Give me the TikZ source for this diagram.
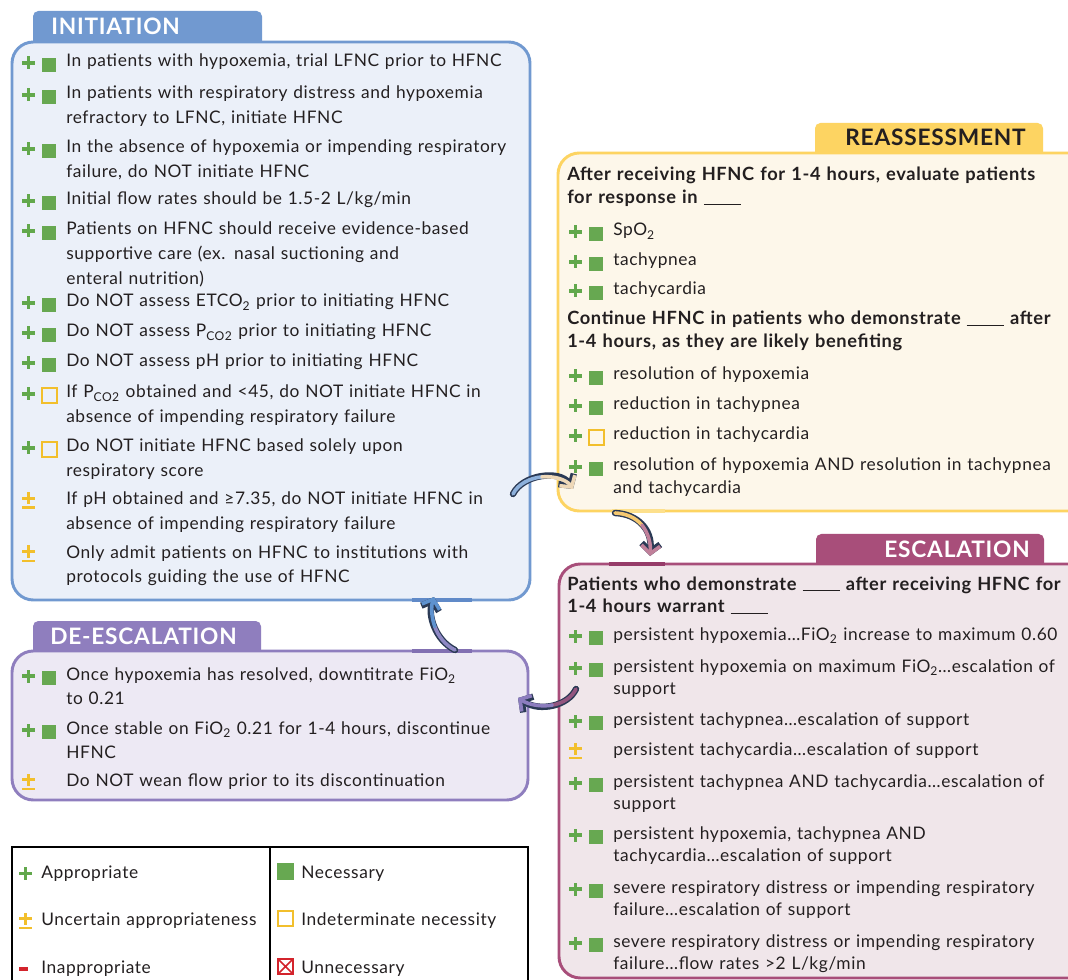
\documentclass[tikz,border=0pt]{standalone}
\usepackage{fontspec}
\setmainfont{Lato}[LetterSpace=3.5]
\usepackage{tikz}
\usetikzlibrary{arrows.meta}
\usetikzlibrary{fit}

\definecolor{initblue}{HTML}{7199D0}
\definecolor{initfill}{HTML}{EBF0F9}
\definecolor{reasyellow}{HTML}{FDD462}
\definecolor{reasfill}{HTML}{FDF7EA}
\definecolor{escpink}{HTML}{A84E7A}
\definecolor{escfill}{HTML}{F0E6EA}
\definecolor{descpurple}{HTML}{8F7EBE}
\definecolor{descfill}{HTML}{EDE9F4}
\definecolor{okgreen}{HTML}{62A84C}
\definecolor{necgreen}{HTML}{67A851}
\definecolor{unsure}{HTML}{F2BF2C}
\definecolor{badred}{HTML}{D3242C}
\definecolor{inkdark}{HTML}{231F20}
\definecolor{arrowink}{HTML}{2B3A55}

\newcommand{\blank}{\rule[-1pt]{28pt}{0.8pt}}

\begin{document}
\begin{tikzpicture}[x=0.75pt, y=-0.75pt,
    stage/.style={draw=#1, line width=2.2pt, rounded corners=16pt, inner sep=0pt},
    tab/.style={fill=#1, rounded corners=4pt, inner sep=0pt},
    title/.style={inner sep=0pt, font=\fontsize{17}{18}\selectfont\bfseries},
    entry/.style={anchor=base west, inner sep=0pt, text width=380pt, align=left,
        text=inkdark, font=\fontsize{13}{18.4}\selectfont},
    snug/.style={font=\fontsize{13}{16.6}\selectfont},
    lead/.style={entry, font=\fontsize{13.7}{17.2}\selectfont\bfseries},
    joint/.style={line width=2.6pt},
    arrline/.style={draw=arrowink, line width=4.8pt, line cap=round},
    arrcore/.style={line width=2.7pt, line cap=round},
    arrtip/.style={-{Straight Barb[length=6pt, width=14pt]}},
    greenplus/.pic={\fill[okgreen] (-44,-5.6) rectangle (-31,-2.4);
        \fill[okgreen] (-39.1,-10.5) rectangle (-35.9,2.5);},
    pn/.pic={\pic {greenplus}; \fill[necgreen] (-24,-9) rectangle (-10,5);},
    pi/.pic={\pic {greenplus}; \draw[unsure, line width=1.5pt] (-24,-9.5) rectangle (-9,5.5);},
    pm/.pic={\fill[unsure] (-44,-8) rectangle (-31,-5.2);
        \fill[unsure] (-39,-12.5) rectangle (-36,-0.5);
        \fill[unsure] (-44,1.5) rectangle (-31,4.3);},
    lgplus/.pic={\fill[okgreen] (-22,-6.3) rectangle (-9,-3.1);
        \fill[okgreen] (-17.1,-11.2) rectangle (-13.9,1.8);},
    lgpm/.pic={\fill[unsure] (-22,-8) rectangle (-9,-5.2);
        \fill[unsure] (-17,-12.5) rectangle (-14,-0.5);
        \fill[unsure] (-22,1.5) rectangle (-9,4.3);},
    lgminus/.pic={\fill[badred] (-22,-6.5) rectangle (-13,-2.5);},
    lgnec/.pic={\fill[necgreen] (-24,-15) rectangle (-7,2);},
    lgind/.pic={\draw[unsure, line width=1.5pt] (-23,-14) rectangle (-8,1);},
    lgunnec/.pic={\draw[badred, line width=1.5pt] (-23,-14) rectangle (-8,1);
        \draw[badred, line width=1.2pt] (-23,-14) -- (-8,1) (-8,-14) -- (-23,1);}]

    \useasboundingbox (0,0) rectangle (1068,980);
    \clip (0,0) rectangle (1068,980);
    \fill[white] (0,0) rectangle (1068,980);

    % tabs
    \node[tab=initblue, fit={(33,11) (262,50)}] (inittab) {};
    \node[tab=reasyellow, fit={(815,123) (1043,160)}] (reastab) {};
    \node[tab=escpink, fit={(816,534) (1044,570)}] (esctab) {};
    \node[tab=descpurple, fit={(33,621) (261,660)}] (desctab) {};

    % boxes
    \node[stage=initblue, fill=initfill, fit={(12,42) (530,600)}] (init) {};
    \node[stage=reasyellow, fill=reasfill, fit={(558,153) (1090,511)}] (reas) {};
    \node[stage=escpink, fill=escfill, fit={(559,564) (1090,978)}] (esc) {};
    \node[stage=descpurple, fill=descfill, fit={(12,651) (528,800)}] (desc) {};

    % border segments where the arrows meet
    \draw[joint, draw={rgb,255:red,96;green,138;blue,200}] (412,600) -- (472,600);
    \draw[joint, draw={rgb,255:red,130;green,112;blue,178}] (412,651) -- (472,651);
    \draw[joint, draw={rgb,255:red,253;green,224;blue,140}] (612,511) -- (665,511);
    \draw[joint, draw={rgb,255:red,150;green,60;blue,105}] (609,564) -- (665,564);

    \node[title, text=white, anchor=base west] (inittitle) at (51,35) {INITIATION};
    \node[title, text=inkdark, anchor=base east] (reastitle) at (1026,146) {REASSESSMENT};
    \node[title, text=white, anchor=base east] (esctitle) at (1030,557) {ESCALATION};
    \node[title, text=white, anchor=base west] (desctitle) at (50,644) {DE-ESCALATION};

    % initiation
    \node[entry] (i1) at (66,67) {In patients with hypoxemia, trial LFNC prior to HFNC};
    \node[entry] (i2) at (66,99) {In patients with respiratory distress and hypoxemia\\ refractory to LFNC, initiate HFNC};
    \node[entry] (i3) at (66,153) {In the absence of hypoxemia or impending respiratory\\ failure, do NOT initiate HFNC};
    \node[entry] (i4) at (66,205) {Initial flow rates should be 1.5-2 L/kg/min};
    \node[entry] (i5) at (66,235) {Patients on HFNC should receive evidence-based\\ supportive care (ex. nasal suctioning and\\ enteral nutrition)};
    \node[entry] (i6) at (66,307) {Do NOT assess ETCO\textsubscript{2} prior to initiating HFNC};
    \node[entry] (i7) at (66,337) {Do NOT assess P\textsubscript{CO2} prior to initiating HFNC};
    \node[entry] (i8) at (66,367) {Do NOT assess pH prior to initiating HFNC};
    \node[entry] (i9) at (66,398) {If P\textsubscript{CO2} obtained and <45, do NOT initiate HFNC in\\ absence of impending respiratory failure};
    \node[entry] (i10) at (66,452) {Do NOT initiate HFNC based solely upon\\ respiratory score};
    \node[entry] (i11) at (66,505) {If pH obtained and ≥7.35, do NOT initiate HFNC in\\ absence of impending respiratory failure};
    \node[entry] (i12) at (66,558) {Only admit patients on HFNC to institutions with\\ protocols guiding the use of HFNC};
    \foreach \n in {1,...,8} {\pic at (i\n.base west) {pn};}
    \pic at (i9.base west) {pi};
    \pic at (i10.base west) {pi};
    \pic at (i11.base west) {pm};
    \pic at (i12.base west) {pm};

    % reassessment
    \node[lead] (rq1) at (567,181) {After receiving HFNC for 1-4 hours, evaluate patients\\ for response in \blank};
    \node[entry] (r1) at (613,236) {SpO\textsubscript{2}};
    \node[entry] (r2) at (613,266) {tachypnea};
    \node[entry] (r3) at (613,295) {tachycardia};
    \node[lead] (rq2) at (567,325) {Continue HFNC in patients who demonstrate \blank{} after\\ 1-4 hours, as they are likely benefiting};
    \node[entry] (r4) at (613,380) {resolution of hypoxemia};
    \node[entry] (r5) at (613,410) {reduction in tachypnea};
    \node[entry] (r6) at (613,440) {reduction in tachycardia};
    \node[entry, snug] (r7) at (613,471) {resolution of hypoxemia AND resolution in tachypnea\\ and tachycardia};
    \foreach \n in {1,2,3,4,5,7} {\pic at (r\n.base west) {pn};}
    \pic at (r6.base west) {pi};

    % escalation
    \node[lead] (eq1) at (567,590) {Patients who demonstrate \blank{} after receiving HFNC for\\ 1-4 hours warrant \blank};
    \node[entry, snug] (e1) at (613,640) {persistent hypoxemia…FiO\textsubscript{2} increase to maximum 0.60};
    \node[entry, snug] (e2) at (613,672) {persistent hypoxemia on maximum FiO\textsubscript{2}…escalation of\\ support};
    \node[entry, snug] (e3) at (613,725) {persistent tachypnea…escalation of support};
    \node[entry, snug] (e4) at (613,755) {persistent tachycardia…escalation of support};
    \node[entry, snug] (e5) at (613,787) {persistent tachypnea AND tachycardia…escalation of\\ support};
    \node[entry, snug] (e6) at (613,839) {persistent hypoxemia, tachypnea AND\\ tachycardia…escalation of support};
    \node[entry, snug] (e7) at (613,893) {severe respiratory distress or impending respiratory\\ failure…escalation of support};
    \node[entry, snug] (e8) at (613,947) {severe respiratory distress or impending respiratory\\ failure…flow rates >2 L/kg/min};
    \foreach \n in {1,2,3,5,6,7,8} {\pic at (e\n.base west) {pn};}
    \pic at (e4.base west) {pm};

    % de-escalation
    \node[entry] (d1) at (66,680) {Once hypoxemia has resolved, downtitrate FiO\textsubscript{2}\\ to 0.21};
    \node[entry] (d2) at (66,734) {Once stable on FiO\textsubscript{2} 0.21 for 1-4 hours, discontinue\\ HFNC};
    \node[entry] (d3) at (66,786) {Do NOT wean flow prior to its discontinuation};
    \pic at (d1.base west) {pn};
    \pic at (d2.base west) {pn};
    \pic at (d3.base west) {pm};

    % legend
    \node[draw=black, line width=1.4pt, inner sep=0pt, fit={(12,847) (528,1010)}] (legend) {};
    \draw[line width=1.4pt] (270,847) -- (270,1010);
    \node[entry] (lg1) at (41,878) {Appropriate};
    \node[entry] (lg2) at (41,925) {Uncertain appropriateness};
    \node[entry] (lg3) at (41,973) {Inappropriate};
    \node[entry] (lg4) at (301,878) {Necessary};
    \node[entry] (lg5) at (301,925) {Indeterminate necessity};
    \node[entry] (lg6) at (301,973) {Unnecessary};
    \pic at (lg1.base west) {lgplus};
    \pic at (lg2.base west) {lgpm};
    \pic at (lg3.base west) {lgminus};
    \pic at (lg4.base west) {lgnec};
    \pic at (lg5.base west) {lgind};
    \pic at (lg6.base west) {lgunnec};

    % cycle arrows
    \coordinate (a1s) at (513,494);
    \coordinate (a1m) at (541.9,476.9);
    \coordinate (a1e) at (573,489);
    \coordinate (a2s) at (615,513);
    \coordinate (a2m) at (641.9,525.1);
    \coordinate (a2e) at (650,556);
    \coordinate (a3s) at (576,689);
    \coordinate (a3m) at (552.25,705.1);
    \coordinate (a3e) at (518,698);
    \coordinate (a4s) at (455,650);
    \coordinate (a4m) at (434.75,626.5);
    \coordinate (a4e) at (434,597);

    \draw[arrline, arrtip] (a1s) .. controls (523,474) and (560,470) .. (a1e);
    \draw[arrcore, draw={rgb,255:red,141;green,176;blue,219}] (a1s) .. controls (518,484) and (529.75,478) .. (a1m);
    \draw[arrcore, arrtip, draw={rgb,255:red,238;green,216;blue,184}] (a1m) .. controls (554,475.75) and (566.5,479.5) .. (a1e);

    \draw[arrline, arrtip] (a2s) .. controls (638,514) and (652,530) .. (a2e);
    \draw[arrcore, draw={rgb,255:red,245;green,200;blue,112}] (a2s) .. controls (626.5,513.5) and (635.75,517.75) .. (a2m);
    \draw[arrcore, arrtip, draw={rgb,255:red,192;green,128;blue,154}] (a2m) .. controls (648,532.5) and (651,543) .. (a2e);

    \draw[arrline, arrtip] (a3s) .. controls (568,706) and (540,712) .. (a3e);
    \draw[arrcore, draw={rgb,255:red,147;green,85;blue,127}] (a3s) .. controls (572,697.5) and (563,703.25) .. (a3m);
    \draw[arrcore, arrtip, draw={rgb,255:red,140;green,125;blue,190}] (a3m) .. controls (541.5,707) and (529,705) .. (a3e);

    \draw[arrline, arrtip] (a4s) .. controls (435,640) and (428,615) .. (a4e);
    \draw[arrcore, draw={rgb,255:red,142;green,136;blue,196}] (a4s) .. controls (445,645) and (438.25,636.25) .. (a4m);
    \draw[arrcore, arrtip, draw={rgb,255:red,94;green,146;blue,207}] (a4m) .. controls (431.25,616.75) and (431,606) .. (a4e);
\end{tikzpicture}
\end{document}
